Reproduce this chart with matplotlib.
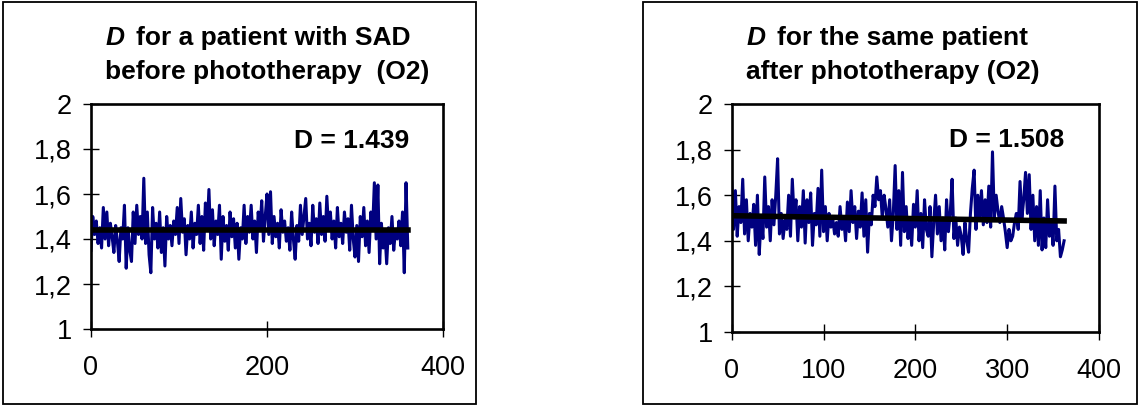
import numpy as np
import matplotlib
matplotlib.use("Agg")
import matplotlib.pyplot as plt
from matplotlib.patches import Rectangle

plt.rcParams['font.family'] = ['Liberation Sans', 'DejaVu Sans']

# D values, read every 2nd sample off the picture
d_before = [
    1.35, 1.50, 1.42, 1.48, 1.38, 1.45, 1.36, 1.54, 1.40, 1.52,
    1.37, 1.47, 1.41, 1.34, 1.46, 1.39, 1.30, 1.45, 1.40, 1.55,
    1.27, 1.45, 1.35, 1.30, 1.52, 1.38, 1.55, 1.42, 1.50, 1.40,
    1.67, 1.38, 1.52, 1.33, 1.25, 1.54, 1.40, 1.47, 1.36, 1.52,
    1.34, 1.45, 1.28, 1.50, 1.40, 1.46, 1.37, 1.48, 1.42, 1.54,
    1.38, 1.58, 1.43, 1.49, 1.33, 1.46, 1.40, 1.52, 1.36, 1.47,
    1.42, 1.55, 1.38, 1.50, 1.35, 1.56, 1.44, 1.62, 1.40, 1.53,
    1.37, 1.48, 1.42, 1.55, 1.31, 1.50, 1.39, 1.46, 1.35, 1.52,
    1.41, 1.49, 1.36, 1.47, 1.31, 1.45, 1.40, 1.55, 1.38, 1.50,
    1.43, 1.55, 1.40, 1.48, 1.34, 1.52, 1.44, 1.57, 1.39, 1.50,
    1.60, 1.42, 1.61, 1.38, 1.50, 1.41, 1.47, 1.36, 1.53, 1.43,
    1.48, 1.39, 1.45, 1.35, 1.52, 1.40, 1.31, 1.46, 1.39, 1.55,
    1.42, 1.50, 1.58, 1.40, 1.47, 1.37, 1.55, 1.43, 1.49, 1.38,
    1.56, 1.42, 1.50, 1.39, 1.59, 1.44, 1.52, 1.40, 1.48, 1.36,
    1.54, 1.41, 1.47, 1.38, 1.52, 1.43, 1.49, 1.35, 1.55, 1.40,
    1.32, 1.46, 1.30, 1.50, 1.41, 1.54, 1.37, 1.48, 1.34, 1.52,
    1.44, 1.65, 1.40, 1.64, 1.29, 1.47, 1.36, 1.43, 1.29, 1.45,
    1.38, 1.50, 1.35, 1.44, 1.40, 1.48, 1.37, 1.52, 1.25, 1.65,
    1.36,
]
d_after = [
    1.66, 1.45, 1.62, 1.42, 1.55, 1.48, 1.67, 1.43, 1.58, 1.40,
    1.52, 1.46, 1.56, 1.38, 1.60, 1.34, 1.50, 1.41, 1.68, 1.46,
    1.55, 1.40, 1.58, 1.47, 1.60, 1.76, 1.43, 1.52, 1.41, 1.49,
    1.45, 1.60, 1.42, 1.67, 1.50, 1.58, 1.40, 1.55, 1.46, 1.62,
    1.39, 1.58, 1.48, 1.61, 1.38, 1.52, 1.47, 1.63, 1.42, 1.71,
    1.44, 1.55, 1.40, 1.52, 1.46, 1.50, 1.43, 1.48, 1.42, 1.55,
    1.45, 1.50, 1.40, 1.57, 1.44, 1.62, 1.48, 1.55, 1.41, 1.53,
    1.46, 1.61, 1.42, 1.58, 1.35, 1.52, 1.47, 1.60, 1.55, 1.68,
    1.58, 1.62, 1.50, 1.60, 1.54, 1.46, 1.58, 1.40, 1.52, 1.73,
    1.45, 1.62, 1.38, 1.70, 1.44, 1.55, 1.41, 1.50, 1.38, 1.56,
    1.46, 1.62, 1.40, 1.52, 1.37, 1.58, 1.45, 1.42, 1.55, 1.33,
    1.48, 1.60, 1.43, 1.55, 1.40, 1.50, 1.36, 1.58, 1.44, 1.52,
    1.67, 1.41, 1.50, 1.38, 1.46, 1.42, 1.34, 1.48, 1.40, 1.35,
    1.52, 1.63, 1.71, 1.45, 1.60, 1.50, 1.62, 1.47, 1.58, 1.48,
    1.64, 1.46, 1.79, 1.50, 1.60, 1.53, 1.48, 1.55, 1.50, 1.44,
    1.37, 1.45, 1.40, 1.42, 1.48, 1.52, 1.45, 1.66, 1.50, 1.58,
    1.70, 1.52, 1.69, 1.45, 1.60, 1.40, 1.55, 1.38, 1.62, 1.36,
    1.50, 1.37, 1.58, 1.42, 1.48, 1.38, 1.64, 1.40, 1.45, 1.33,
    1.36, 1.40,
]
t_before = np.arange(len(d_before)) * 2
t_after = np.arange(len(d_after)) * 2

# linear trend, start/end
trend_x_before = [0, 360]
trend_before = [1.440, 1.440]
trend_x_after = [0, 362]
trend_after = [1.510, 1.487]

yticks = [1, 1.2, 1.4, 1.6, 1.8, 2]
ytick_labels = ["1", "1,2", "1,4", "1,6", "1,8", "2"]
xticks_before = [0, 200, 400]
xticks_after = [0, 100, 200, 300, 400]

W, H = 1139, 405
fig = plt.figure(figsize=(W / 100, H / 100), dpi=100)


def px(x, y):
    return x / W, 1 - y / H


def box(x0, y0, x1, y1):
    fig.patches.append(Rectangle(px(x0, y1), (x1 - x0) / W, (y1 - y0) / H,
                                 transform=fig.transFigure, fill=False,
                                 edgecolor="black", linewidth=1.3))


def setup(ax, xticks):
    ax.set_xlim(0, 400)
    ax.set_ylim(1, 2)
    ax.set_xticks(xticks)
    ax.set_xticklabels([str(v) for v in xticks])
    ax.set_yticks(yticks)
    ax.set_yticklabels(ytick_labels)
    for s in ax.spines.values():
        s.set_linewidth(1.9)
    ax.tick_params(axis="both", direction="inout", length=11, width=1.0,
                   labelsize=19.5)
    ax.tick_params(axis="y", pad=8)
    ax.tick_params(axis="x", pad=13)


# left panel
box(3, 2, 476, 404)
ax1 = fig.add_axes([91 / W, 1 - 329 / H, 352 / W, 225 / H])
ax1.plot(t_before, d_before, color="#000080", linewidth=2.2)
ax1.plot(trend_x_before, trend_before, color="black", linewidth=4.0)
setup(ax1, xticks_before)

# right panel
box(643, 2, 1137, 404)
ax2 = fig.add_axes([731.7 / W, 1 - 332 / H, 367.3 / W, 228 / H])
ax2.plot(t_after, d_after, color="#000080", linewidth=2.2)
ax2.plot(trend_x_after, trend_after, color="black", linewidth=4.0)
setup(ax2, xticks_after)

tkw = dict(fontsize=19, fontweight="bold", va="baseline")
fig.text(*px(106, 45), "D", style="italic", ha="left", **tkw)
fig.text(*px(136, 45), "for a patient with SAD", ha="left", **tkw)
fig.text(*px(105, 79), "before phototherapy  (O2)", ha="left", **tkw)
fig.text(*px(409, 148), "D = 1.439", ha="right", **tkw)

fig.text(*px(747, 45), "D", style="italic", ha="left", **tkw)
fig.text(*px(777, 45), "for the same patient", ha="left", **tkw)
fig.text(*px(746, 79), "after phototherapy (O2)", ha="left", **tkw)
fig.text(*px(1064, 147), "D = 1.508", ha="right", **tkw)

fig.savefig("out.png", dpi=100)
